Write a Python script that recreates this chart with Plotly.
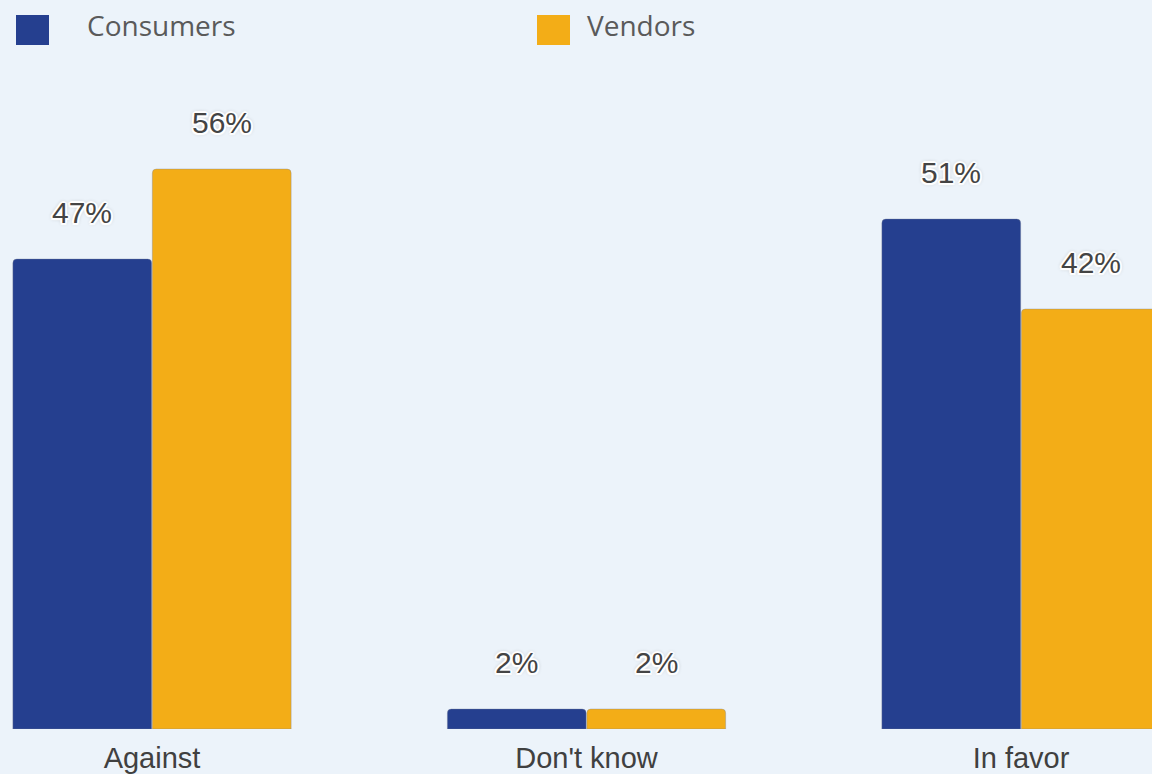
import plotly.graph_objects as go

# Survey answers, share of respondents (%)
categories = ["Against", "Don't know", "In favor"]
consumers = [47, 2, 51]
vendors = [56, 2, 42]
series_names = ["Consumers", "Vendors"]

BLUE = "#253F8F"
ORANGE = "#F3AD17"
BG = "#ECF3FA"
BARGAP = 0.358

W, H = 1152, 774
MB = 45
PLOT_H = H - MB

fig = go.Figure()
for name, vals, col in [(series_names[0], consumers, BLUE), (series_names[1], vendors, ORANGE)]:
    fig.add_trace(go.Bar(
        x=categories, y=vals, name=name,
        marker=dict(color=col, cornerradius=4, line=dict(width=0.6, color="rgba(120,130,150,0.6)")),
        showlegend=False, hoverinfo="skip",
    ))

# value labels above each bar, with a white halo edged in soft grey
half = (1 - BARGAP) / 4
shadow = ("2px 0 1px #fff, -2px 0 1px #fff, 0 2px 1px #fff, 0 -2px 1px #fff, "
          "1.5px 1.5px 1px #fff, -1.5px -1.5px 1px #fff, 1.5px -1.5px 1px #fff, -1.5px 1.5px 1px #fff, "
          "0 0 4px rgba(0,0,0,0.45)")
for k, vals in enumerate([consumers, vendors]):
    off = -half if k == 0 else half
    for i, v in enumerate(vals):
        fig.add_annotation(
            x=i + off, y=v, xref="x", yref="y", text=f"{v}%", showarrow=False,
            yanchor="bottom", yshift=28,
            font=dict(family="Liberation Sans, Arial, sans-serif", size=30, color="#444444", shadow=shadow),
        )

# legend: swatches and labels
legend_items = [(series_names[0], BLUE, 16, 85), (series_names[1], ORANGE, 537, 585)]
for name, col, sx, tx in legend_items:
    fig.add_shape(type="rect", xref="paper", yref="paper",
                  x0=sx / W, x1=(sx + 33) / W, y0=1 - 45 / PLOT_H, y1=1 - 15 / PLOT_H,
                  fillcolor=col, line=dict(width=0), layer="above")
    fig.add_annotation(x=tx / W, y=1 - 25 / PLOT_H, xref="paper", yref="paper",
                       xanchor="left", yanchor="middle", text=name, showarrow=False,
                       font=dict(family="Open Sans, sans-serif", size=28, color="#5a5a5a"))

px_per_cat = 434.5
fig.update_layout(
    width=W, height=H,
    margin=dict(l=0, r=0, t=0, b=MB),
    paper_bgcolor=BG, plot_bgcolor=BG,
    barmode="group", bargap=BARGAP, bargroupgap=0.005,
    xaxis=dict(range=[-152 / px_per_cat, (W - 152) / px_per_cat], showgrid=False, zeroline=False,
               showline=False, ticks="", ticklabelstandoff=9,
               tickfont=dict(family="Liberation Sans, Arial, sans-serif", size=29, color="#404040")),
    yaxis=dict(range=[0, PLOT_H / 10], visible=False, showgrid=False),
)

fig.write_html("out.html")
